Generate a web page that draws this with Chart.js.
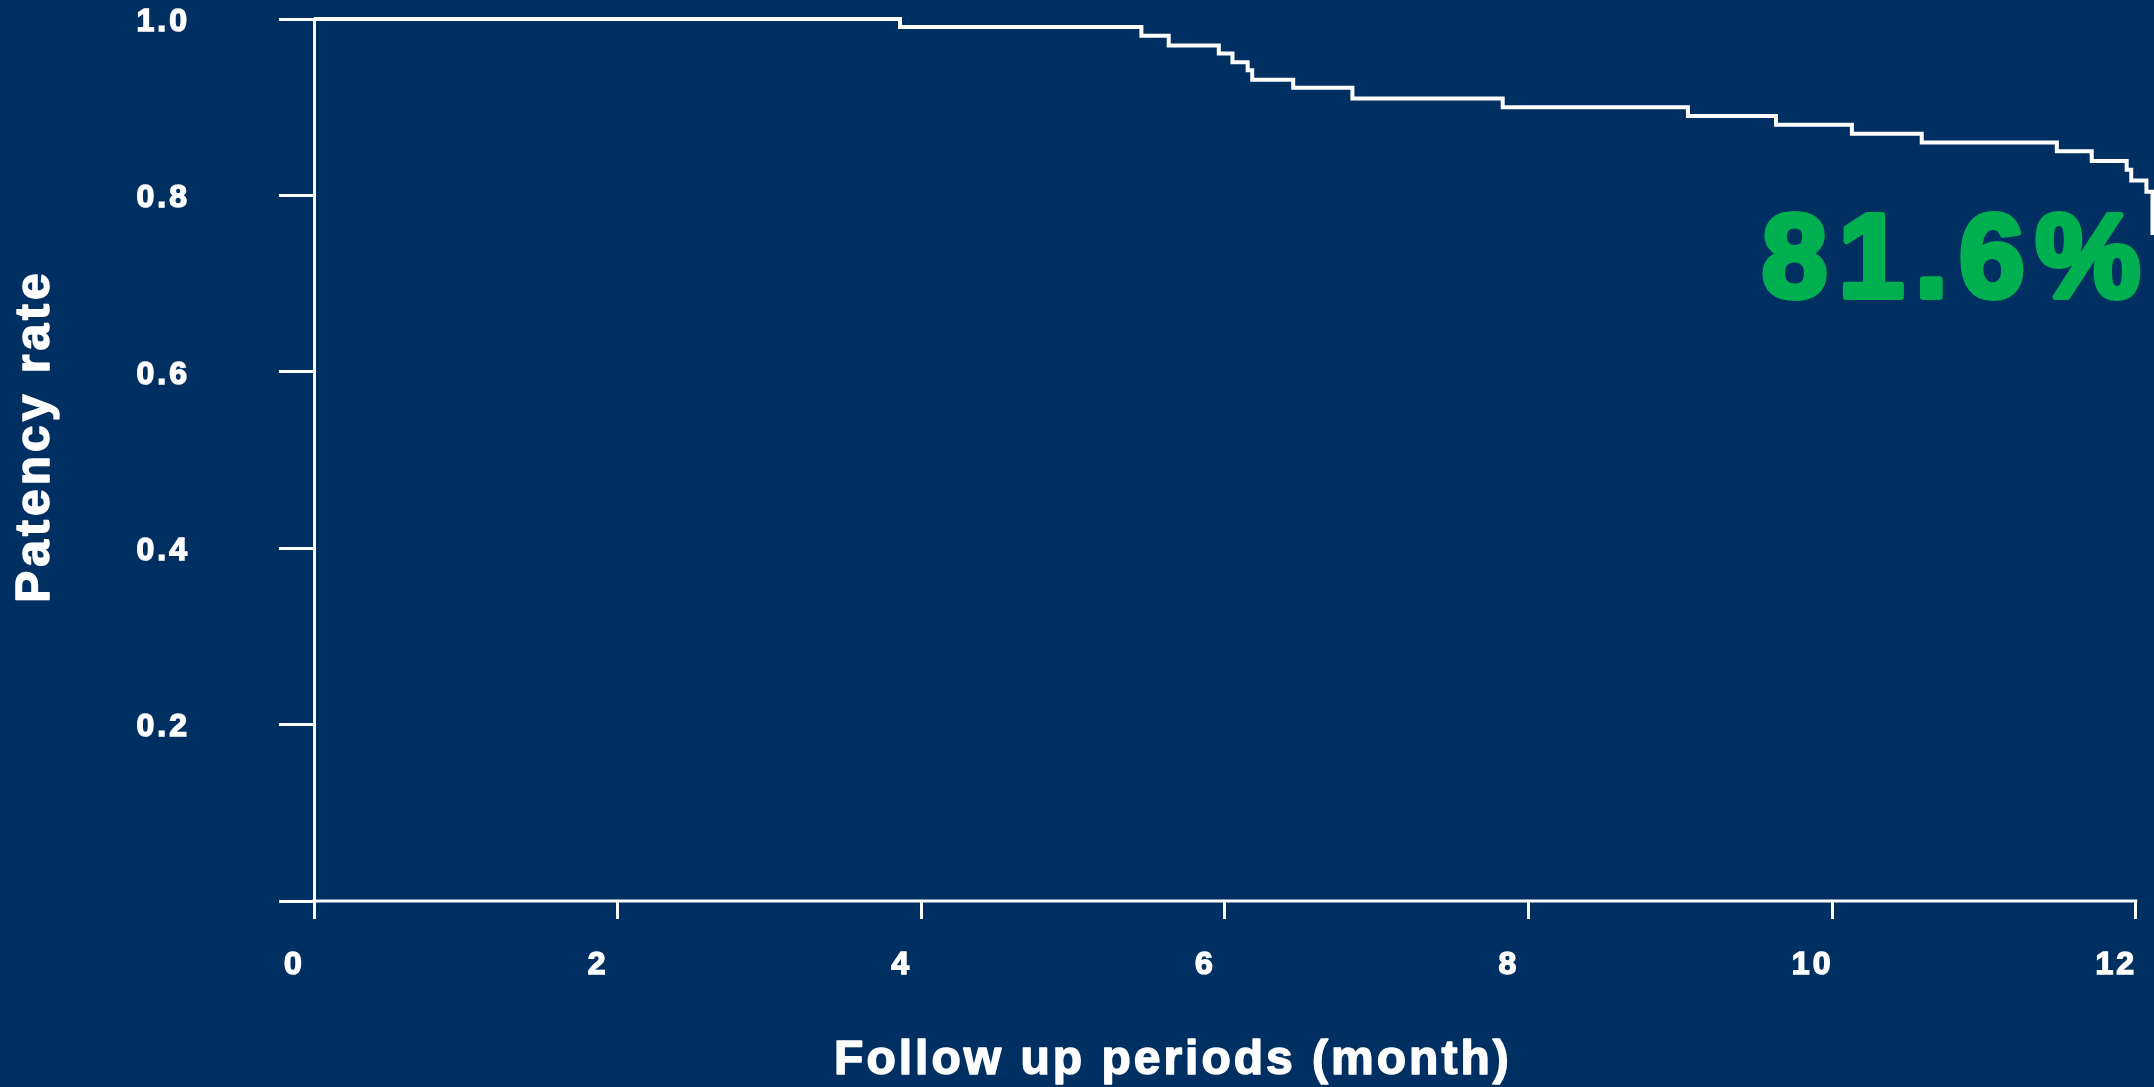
<!DOCTYPE html>
<html><head><meta charset="utf-8">
<script src="https://cdn.jsdelivr.net/npm/chart.js@4.4.1/dist/chart.umd.min.js"></script>
<style>
html,body{margin:0;padding:0;background:#002F62;overflow:hidden;}
#wrap{width:2154px;height:1087px;position:relative;}
canvas{display:block;}
</style></head><body>
<div id="wrap"><canvas id="c" width="2154" height="1087"></canvas></div>
<script>
// ---- data ----
const months  = [0, 3.86, 5.45, 5.63, 5.96, 6.05, 6.15, 6.18, 6.45, 6.84, 7.83, 9.05, 9.63, 10.13, 10.59, 11.48, 11.71, 11.94, 11.97, 12.07, 12.11];
const patency = [1.0, 0.991, 0.981, 0.970, 0.961, 0.951, 0.942, 0.931, 0.922, 0.910, 0.900, 0.890, 0.880, 0.870, 0.860, 0.850, 0.839, 0.829, 0.817, 0.804, 0.755];
const xTicks = [0, 2, 4, 6, 8, 10, 12];
const xTickLabels = ['0', '2', '4', '6', '8', '10', '12'];
const yTicks = [0, 0.2, 0.4, 0.6, 0.8, 1.0];
const yTickLabels = ['', '0.2', '0.4', '0.6', '0.8', '1.0'];
const xTitle = 'Follow up periods (month)';
const yTitle = 'Patency rate';
const rateLabel = '81.6%';

const FONT = '"Liberation Sans", Arial, sans-serif';
const WHITE = '#FFFFFF';
const GREEN = '#00B050';

function heavyText(ctx, text, x, y, size, spacing, stroke, color) {
  ctx.font = 'bold ' + size + 'px ' + FONT;
  ctx.letterSpacing = spacing + 'px';
  ctx.fillStyle = color; ctx.strokeStyle = color;
  ctx.lineWidth = stroke; ctx.lineJoin = 'round';
  ctx.fillText(text, x, y);
  if (stroke > 0) ctx.strokeText(text, x, y);
}

const overlay = {
  id: 'overlay',
  beforeDraw(chart) { chart.ctx.letterSpacing = '3px'; },
  beforeDatasetsDraw(chart) { chart.ctx.letterSpacing = '0px'; },
  afterDraw(chart) {
    const ctx = chart.ctx;
    const xs = chart.scales.x, ys = chart.scales.y;
    ctx.save();
    // x axis line spanning first..last tick
    const yb = ys.getPixelForValue(0);
    ctx.strokeStyle = WHITE; ctx.lineWidth = 3;
    ctx.beginPath();
    ctx.moveTo(xs.getPixelForValue(xTicks[0]) - 1.5, yb);
    ctx.lineTo(xs.getPixelForValue(xTicks[xTicks.length - 1]) + 1.5, yb);
    ctx.stroke();
    // x axis title
    ctx.textAlign = 'center'; ctx.textBaseline = 'middle';
    const cx = (xs.getPixelForValue(xTicks[0]) + xs.getPixelForValue(xTicks[xTicks.length - 1])) / 2 - 52;
    heavyText(ctx, xTitle, cx, yb + 160, 48, 3, 1.5, WHITE);
    // y axis title (rotated)
    ctx.save();
    ctx.translate(35.5, ys.getPixelForValue(0.525));
    ctx.rotate(-Math.PI / 2);
    ctx.textAlign = 'center'; ctx.textBaseline = 'middle';
    heavyText(ctx, yTitle, 2, 0, 48, 4, 1.5, WHITE);
    ctx.restore();
    // 12-month rate label
    ctx.textAlign = 'center'; ctx.textBaseline = 'alphabetic';
    heavyText(ctx, rateLabel, xs.getPixelForValue(10.82), ys.getPixelForValue(0.6848), 118, 11, 6, GREEN);
    ctx.restore();
  }
};

new Chart(document.getElementById('c'), {
  type: 'line',
  data: {
    datasets: [{
      data: months.map((m, i) => ({x: m, y: patency[i]})),
      borderColor: WHITE,
      borderWidth: 4,
      pointRadius: 0,
      stepped: true,
      fill: false,
      tension: 0,
      clip: false
    }]
  },
  options: {
    responsive: false,
    devicePixelRatio: 1,
    animation: false,
    layout: {padding: {top: 19, right: 0, bottom: 0, left: 0}},
    plugins: {legend: {display: false}, tooltip: {enabled: false}, title: {display: false}},
    scales: {
      x: {
        type: 'linear',
        min: 0, max: 12.12,
        afterBuildTicks: s => { s.ticks = xTicks.map(v => ({value: v})); },
        afterFit: s => { s.height = 186; s.paddingLeft = 0; s.paddingRight = 0; },
        border: {display: false},
        grid: {drawOnChartArea: false, drawTicks: true, tickLength: 18, tickWidth: 3, tickColor: WHITE, color: WHITE},
        ticks: {
          color: WHITE, font: {family: FONT, size: 32, weight: 'bold'},
          textStrokeColor: WHITE, textStrokeWidth: 1.5,
          padding: 27, labelOffset: -19.5, maxRotation: 0, autoSkip: false,
          callback: (v, i) => xTickLabels[i]
        }
      },
      y: {
        type: 'linear',
        min: 0, max: 1,
        afterBuildTicks: s => { s.ticks = yTicks.map(v => ({value: v})); },
        afterFit: s => { s.width = 314; s.paddingTop = 0; s.paddingBottom = 0; },
        border: {display: true, color: WHITE, width: 3},
        grid: {drawOnChartArea: false, drawTicks: true, tickLength: 35, tickWidth: 3, tickColor: WHITE, color: WHITE},
        title: {display: false},
        ticks: {
          color: WHITE, font: {family: FONT, size: 32, weight: 'bold'},
          textStrokeColor: WHITE, textStrokeWidth: 1.5,
          padding: 89, labelOffset: 3, autoSkip: false,
          callback: (v, i) => yTickLabels[i]
        }
      }
    }
  },
  plugins: [overlay]
});
</script>
</body></html>
